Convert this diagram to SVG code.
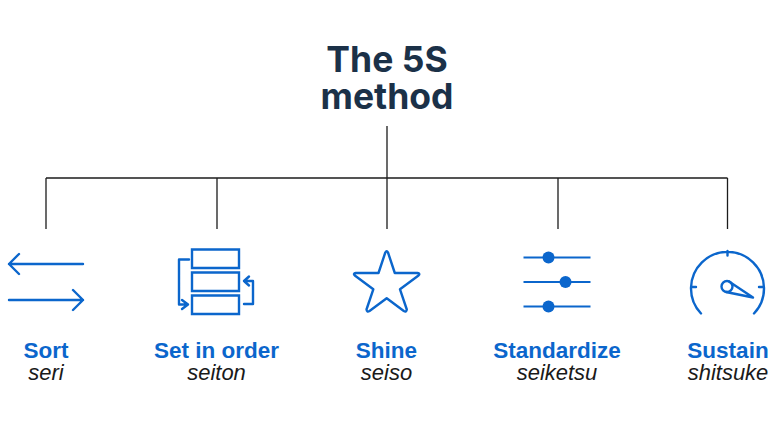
<svg xmlns="http://www.w3.org/2000/svg" width="780" height="439" viewBox="0 0 780 439">
<style>
.ln{fill:none;stroke:#1c1c1c;stroke-width:1.3}
.ic{fill:none;stroke:#0b66cc;stroke-width:2.4;stroke-linecap:round;stroke-linejoin:round}
.sl{fill:none;stroke:#0b66cc;stroke-width:2}
.dot{fill:#0b66cc}
text{font-family:"Liberation Sans",Arial,sans-serif;text-anchor:middle}
.t{font-family:Inter,"Liberation Sans",sans-serif;font-weight:700;font-size:35.500px;fill:#1b3148}
.h{font-weight:700;font-size:22.500px;fill:#0b66cc}
.s{font-style:italic;font-size:22px;fill:#1a1a1a}
</style>
<rect width="780" height="439" fill="#fff"/>
<g id="connectors">
<path class="ln" d="M387 126V178M46 178H727.500M46 178V229M217 178V229M387 178V229M558 178V229M727.500 178V229"/>
</g>
<g id="title"><text class="t" x="387" y="72"><tspan x="387" y="72">The 5S</tspan><tspan x="387" y="108.500">method</tspan></text></g>
<g id="sort">
<path class="ic" d="M83 264H9M19 254L9 264L19 274M9 300H83M73 290L83 300L73 310"/>
<text class="h" x="46" y="358">Sort</text><text class="s" x="46" y="380">seri</text>
</g>
<g id="set-in-order">
<path class="ic" style="stroke-linecap:butt;stroke-linejoin:miter" d="M192 249.500H239V268H192ZM192 272.500H239V291H192ZM192 295.500H239V314H192Z"/>
<path class="ic" d="M189 259.500H179V304.500H188M182 300L188 304.500L182 309M244 304H253V281H244M249 276.500L244 281L249 285.500"/>
<text class="h" x="216.500" y="358">Set in order</text><text class="s" x="216.500" y="380">seiton</text>
</g>
<g id="shine">
<path class="ic" d="M385.300 252.500Q386.700 250 388 252.500L394.800 273H417.500Q420.500 273.500 418.500 275.500L400 289.300L406.800 309.500Q406.500 312.500 403.800 311L386.700 298.300L369.500 311Q366.800 312.500 366.500 309.500L373.300 289.300L354.800 275.500Q352.800 273.500 355.800 273H378.500Z"/>
<text class="h" x="386.500" y="358">Shine</text><text class="s" x="386.500" y="380">seiso</text>
</g>
<g id="standardize">
<path class="sl" d="M523.500 257.500H590.500M523.500 282H590.500M523.500 306.500H590.500"/>
<circle class="dot" cx="548.500" cy="257.500" r="6"/><circle class="dot" cx="565.500" cy="282" r="6"/><circle class="dot" cx="548.500" cy="306.500" r="6"/>
<text class="h" x="557" y="358">Standardize</text><text class="s" x="557" y="380">seiketsu</text>
</g>
<g id="sustain">
<path class="ic" d="M701 313.500A36.500 36.500 0 1 1 754 313.500M727.500 251V255.500M691 287H696M759 287H763.500"/>
<circle class="ic" cx="727" cy="286.500" r="5.500"/>
<path class="ic" d="M729 281.500L753 297.500L726 292"/>
<text class="h" x="728" y="358">Sustain</text><text class="s" x="728" y="380">shitsuke</text>
</g>
</svg>
